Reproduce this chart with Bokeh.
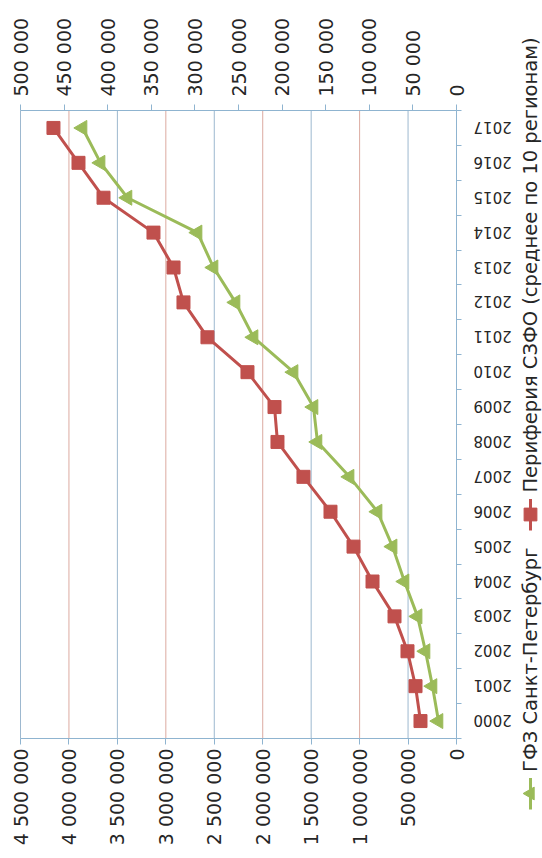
from bokeh.plotting import figure
from bokeh.models import Range1d, LinearAxis, FixedTicker, Legend, LegendItem
from bokeh.embed import file_html
from bokeh.resources import INLINE

# ---- data ----
years = list(range(2000, 2018))
gfz_spb = [186000, 248000, 320000, 402000, 537000, 660000, 815000, 1104000, 1435000,
           1476000, 1682000, 2095000, 2281000, 2508000, 2673000, 3396000, 3674000, 3860000]
periphery = [41300, 47000, 56200, 71100, 96300, 118100, 144500, 175500, 205300,
             208700, 239700, 285600, 313100, 324500, 347500, 404800, 433500, 462200]

primary_ticks = [0, 500000, 1000000, 1500000, 2000000, 2500000, 3000000, 3500000, 4000000, 4500000]
primary_labels = ["0", "500 000", "1 000 000", "1 500 000", "2 000 000", "2 500 000",
                  "3 000 000", "3 500 000", "4 000 000", "4 500 000"]
secondary_ticks = [0, 50000, 100000, 150000, 200000, 250000, 300000, 350000, 400000, 450000, 500000]
secondary_labels = ["0", "50 000", "100 000", "150 000", "200 000", "250 000",
                    "300 000", "350 000", "400 000", "450 000", "500 000"]
legend_names = ["ГФЗ Санкт-Петербург", "Периферия СЗФО (среднее по 10 регионам)"]

GREEN = "#9bbb59"
RED = "#c0504d"
GRID_A = "#9db8cf"
GRID_B = "#dcaaa0"
AXIS = "#8fb4d0"
TEXT = "#262626"
FONT = "DejaVu Sans"

# The chart is built upright (years along the bottom) and the whole figure is
# turned 90 degrees counter-clockwise with CSS, as in the reference picture.
# The figure is square so that its turned box has the same size as the unturned one.
# The frame fills the whole canvas (so the legend below the axis is not clipped);
# the axes are pinned at the edges of the data area with fixed_location.
S = 850
AREA_L, AREA_R, AREA_T, AREA_B = 111, 739, 20, 456   # data area inside the canvas (px)

x0, x1 = years[0] - 0.5, years[-1] + 0.5
px_per_x = (AREA_R - AREA_L) / (x1 - x0)
ymax, smax = primary_ticks[-1], secondary_ticks[-1]
v_per_px = ymax / (AREA_B - AREA_T)
s_per_px = smax / (AREA_B - AREA_T)

p = figure(width=S, height=S, title=None,
           x_range=Range1d(x0 - AREA_L / px_per_x, x1 + (S - AREA_R) / px_per_x),
           y_range=Range1d(-(S - AREA_B) * v_per_px, ymax + AREA_T * v_per_px),
           x_axis_location=None, y_axis_location=None,
           output_backend="svg", toolbar_location=None,
           min_border=0, min_border_left=0, min_border_right=0,
           min_border_top=0, min_border_bottom=0)
p.extra_y_ranges = {"sec": Range1d(-(S - AREA_B) * s_per_px, smax + AREA_T * s_per_px)}
p.styles = {"transform": f"translateY({S}px) rotate(-90deg)", "transform-origin": "0 0"}
p.outline_line_color = None
p.background_fill_color = "white"
p.border_fill_color = "white"
for g in p.grid:
    g.visible = False

# gridlines across the data area (alternating tints, as seen in the picture)
p.segment(x0=x0, x1=x1, y0=primary_ticks[1::2], y1=primary_ticks[1::2],
          line_color=GRID_A, line_width=1)
p.segment(x0=x0, x1=x1, y0=primary_ticks[2::2], y1=primary_ticks[2::2],
          line_color=GRID_B, line_width=1)

ax_l = LinearAxis(ticker=FixedTicker(ticks=primary_ticks), fixed_location=x0,
                  bounds=(primary_ticks[0], ymax),
                  major_label_overrides={t: l for t, l in zip(primary_ticks, primary_labels)})
ax_r = LinearAxis(y_range_name="sec", ticker=FixedTicker(ticks=secondary_ticks), fixed_location=x1,
                  bounds=(secondary_ticks[0], smax),
                  major_label_overrides={t: l for t, l in zip(secondary_ticks, secondary_labels)})
ax_b = LinearAxis(ticker=FixedTicker(ticks=years,
                                     minor_ticks=[y - 0.5 for y in years] + [x1]),
                  fixed_location=0, bounds=(x0, x1),
                  major_label_overrides={y: str(y) for y in years},
                  major_label_orientation=1.5707963267948966)
for ax in (ax_l, ax_r, ax_b):
    ax.axis_line_color = AXIS
    ax.major_tick_line_color = AXIS
    ax.minor_tick_line_color = AXIS
    ax.major_label_text_font = FONT
    ax.major_label_text_color = TEXT
    ax.major_tick_in = 0
    ax.minor_tick_in = 0
for ax in (ax_l, ax_r):
    ax.major_tick_out = 6
    ax.minor_tick_out = 0
    ax.major_label_text_font_size = "19px"
ax_l.major_label_standoff = 4
ax_r.major_label_standoff = 8
ax_b.major_tick_out = 0
ax_b.minor_tick_out = 5
ax_b.major_label_text_font_size = "15px"
ax_b.major_label_standoff = 12
p.add_layout(ax_l, "left")
p.add_layout(ax_r, "right")
p.add_layout(ax_b, "below")

# series
g_line = p.line(x=years, y=gfz_spb, line_color=GREEN, line_width=3)
g_mark = p.scatter(x=years, y=gfz_spb, marker="triangle", size=15,
                   fill_color=GREEN, line_color=GREEN)
r_line = p.line(x=years, y=periphery, y_range_name="sec", line_color=RED, line_width=3)
r_mark = p.scatter(x=years, y=periphery, y_range_name="sec", marker="square", size=13,
                   fill_color=RED, line_color=RED)

legend = Legend(items=[LegendItem(label=legend_names[0], renderers=[g_line, g_mark]),
                       LegendItem(label=legend_names[1], renderers=[r_line, r_mark])],
                orientation="horizontal", location=(40, 304),
                glyph_width=32, glyph_height=32, label_standoff=6, spacing=17,
                padding=0, margin=0, border_line_color=None, background_fill_alpha=0,
                label_text_font=FONT, label_text_font_size="19.5px", label_text_color=TEXT)
p.add_layout(legend, "center")

open("out.html", "w").write(file_html(p, INLINE))
